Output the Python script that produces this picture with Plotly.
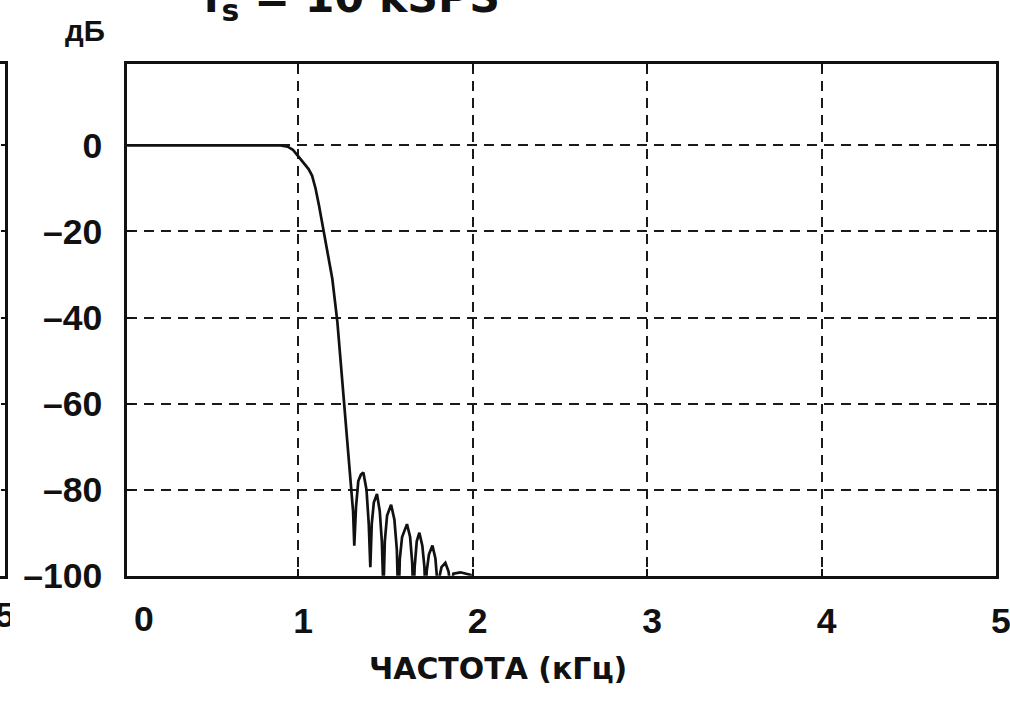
import plotly.graph_objects as go

# ---- data ----
freq_khz = [0.0, 0.50, 0.90, 0.94, 0.97, 1.00, 1.03, 1.06, 1.08, 1.10, 1.12, 1.145,
            1.17, 1.196, 1.225, 1.253, 1.271, 1.288, 1.300, 1.308, 1.315, 1.322,
            1.332, 1.345, 1.360, 1.374, 1.392, 1.405, 1.414,
            1.422, 1.434, 1.452, 1.468, 1.480, 1.489,
            1.497, 1.510, 1.533, 1.552, 1.566, 1.575,
            1.583, 1.596, 1.624, 1.642, 1.654, 1.661,
            1.668, 1.680, 1.695, 1.712, 1.724, 1.730,
            1.737, 1.750, 1.770, 1.787, 1.795, 1.799,
            1.806, 1.822, 1.844, 1.862, 1.875,
            1.890, 1.930, 1.988, 2.000, 2.100]
gain_db = [0.0, 0.0, 0.0, -0.3, -1.0, -2.5, -4.0, -5.5, -7.0, -10.0, -14.0, -19.5,
           -25.0, -31.0, -41.0, -54.5, -65.0, -73.0, -79.0, -81.0, -85.0, -93.0,
           -84.0, -78.0, -76.5, -76.0, -80.0, -88.0, -98.0,
           -88.0, -83.0, -81.0, -85.0, -92.0, -104.0,
           -92.0, -86.0, -83.5, -87.0, -94.0, -108.0,
           -96.0, -91.0, -88.0, -91.0, -97.0, -106.0,
           -98.0, -92.0, -90.0, -93.0, -98.0, -105.0,
           -99.0, -95.0, -93.0, -96.0, -100.0, -104.0,
           -101.0, -98.0, -97.0, -99.0, -103.0,
           -99.5, -99.2, -99.8, -102.0, -110.0]

x_ticks = [1, 2, 3, 4, 5]
y_ticks = [0, -20, -40, -60, -80, -100]
y_ticktext = ["0", "\u201320", "\u201340", "\u201360", "\u201380", "\u2013100"]
neighbour_tick = ["5"]

title_text = "f<sub>s</sub> = 10 kSPS"
y_unit = "дБ"
x_title = "ЧАСТОТА (кГц)"

# reference frame
W, H = 1010, 712
# figure frame (captured and fitted back to W x H)
PW, PH = 1026, 728
S = PW / W


def fx(ox):
    return ox / W


def fy(oy):
    return 1 - oy / H


FONT = "Liberation Sans, Arial, sans-serif"
WIDE = "DejaVu Sans, Liberation Sans, sans-serif"
tick_font = dict(family=FONT, size=35 * S, color="#111", weight="bold")

fig = go.Figure()
fig.add_trace(go.Scatter(x=freq_khz, y=gain_db, mode="lines",
                         line=dict(color="#111111", width=2.7),
                         xaxis="x", yaxis="y", showlegend=False))
# neighbouring panel edge (far left)
fig.add_trace(go.Scatter(x=[0.5], y=[-200], mode="lines", xaxis="x2", yaxis="y2",
                         showlegend=False, hoverinfo="skip"))
# its last x tick label, clipped by the picture edge
fig.add_trace(go.Scatter(x=[0], y=[0], mode="text", text=neighbour_tick,
                         textposition="middle center", textfont=tick_font,
                         cliponaxis=True, xaxis="x3", yaxis="y3",
                         showlegend=False, hoverinfo="skip"))

ydom = [fy(579), fy(64)]
hidden = dict(visible=False, showgrid=False, zeroline=False)

fig.update_layout(
    width=PW, height=PH,
    margin=dict(l=0, r=0, t=0, b=0),
    paper_bgcolor="white", plot_bgcolor="white",
    showlegend=False,
    xaxis=dict(domain=[fx(127), fx(995)], range=[0.02, 5], anchor="y",
               tickvals=x_ticks, ticks="inside", ticklen=7, tickwidth=2,
               tickcolor="#111", showline=True, linewidth=2.6, linecolor="#111",
               mirror="ticks", showgrid=True, gridcolor="#1a1a1a", gridwidth=2,
               griddash="10px,7px", zeroline=False,
               tickfont=tick_font, ticklabelstandoff=12, ticklabelshift=5),
    yaxis=dict(domain=ydom, range=[-100, 19], anchor="x",
               tickvals=y_ticks, ticktext=y_ticktext, ticks="inside", ticklen=7,
               tickwidth=2, tickcolor="#111", showline=True, linewidth=2.6,
               linecolor="#111", mirror="ticks", showgrid=True,
               gridcolor="#1a1a1a", gridwidth=2, griddash="10px,7px",
               zeroline=False, tickfont=tick_font, ticklabelstandoff=15),
    xaxis2=dict(domain=[0, fx(4.5)], range=[0, 1], anchor="y2",
                showline=True, linewidth=2.6, linecolor="#111", mirror=True,
                ticks="", showticklabels=False, showgrid=False, zeroline=False),
    yaxis2=dict(domain=ydom, range=[-100, 19], anchor="x2", side="right",
                showline=True, linewidth=2.6, linecolor="#111", mirror=False,
                tickvals=y_ticks, ticks="inside", ticklen=4, tickwidth=2,
                tickcolor="#111", showticklabels=False, showgrid=False,
                zeroline=False),
    xaxis3=dict(domain=[0, fx(10)], range=[-1, 1], anchor="y3", **hidden),
    yaxis3=dict(domain=[fy(645), fy(598)], range=[-1, 1], anchor="x3", **hidden),
    annotations=[
        dict(text="0", xref="paper", yref="paper", x=fx(144), y=fy(622),
             xanchor="center", yanchor="middle", showarrow=False, font=tick_font),
        dict(text=y_unit, xref="paper", yref="paper", x=fx(85), y=fy(31),
             xanchor="center", yanchor="middle", showarrow=False,
             font=dict(family=FONT, size=29 * S, color="#111", weight="bold")),
        dict(text=title_text, xref="paper", yref="paper", x=fx(351), y=fy(30),
             xanchor="center", yanchor="bottom", showarrow=False,
             font=dict(family=WIDE, size=42 * S, color="#111", weight="bold")),
        dict(text=x_title, xref="paper", yref="paper", x=fx(498), y=fy(672),
             xanchor="center", yanchor="middle", showarrow=False,
             font=dict(family=WIDE, size=29.5 * S, color="#111", weight="bold")),
    ],
)

fig.write_html(
    "out.html",
    config={"displayModeBar": False},
    post_script="document.body.style.margin='0';document.body.style.overflow='hidden';",
)
